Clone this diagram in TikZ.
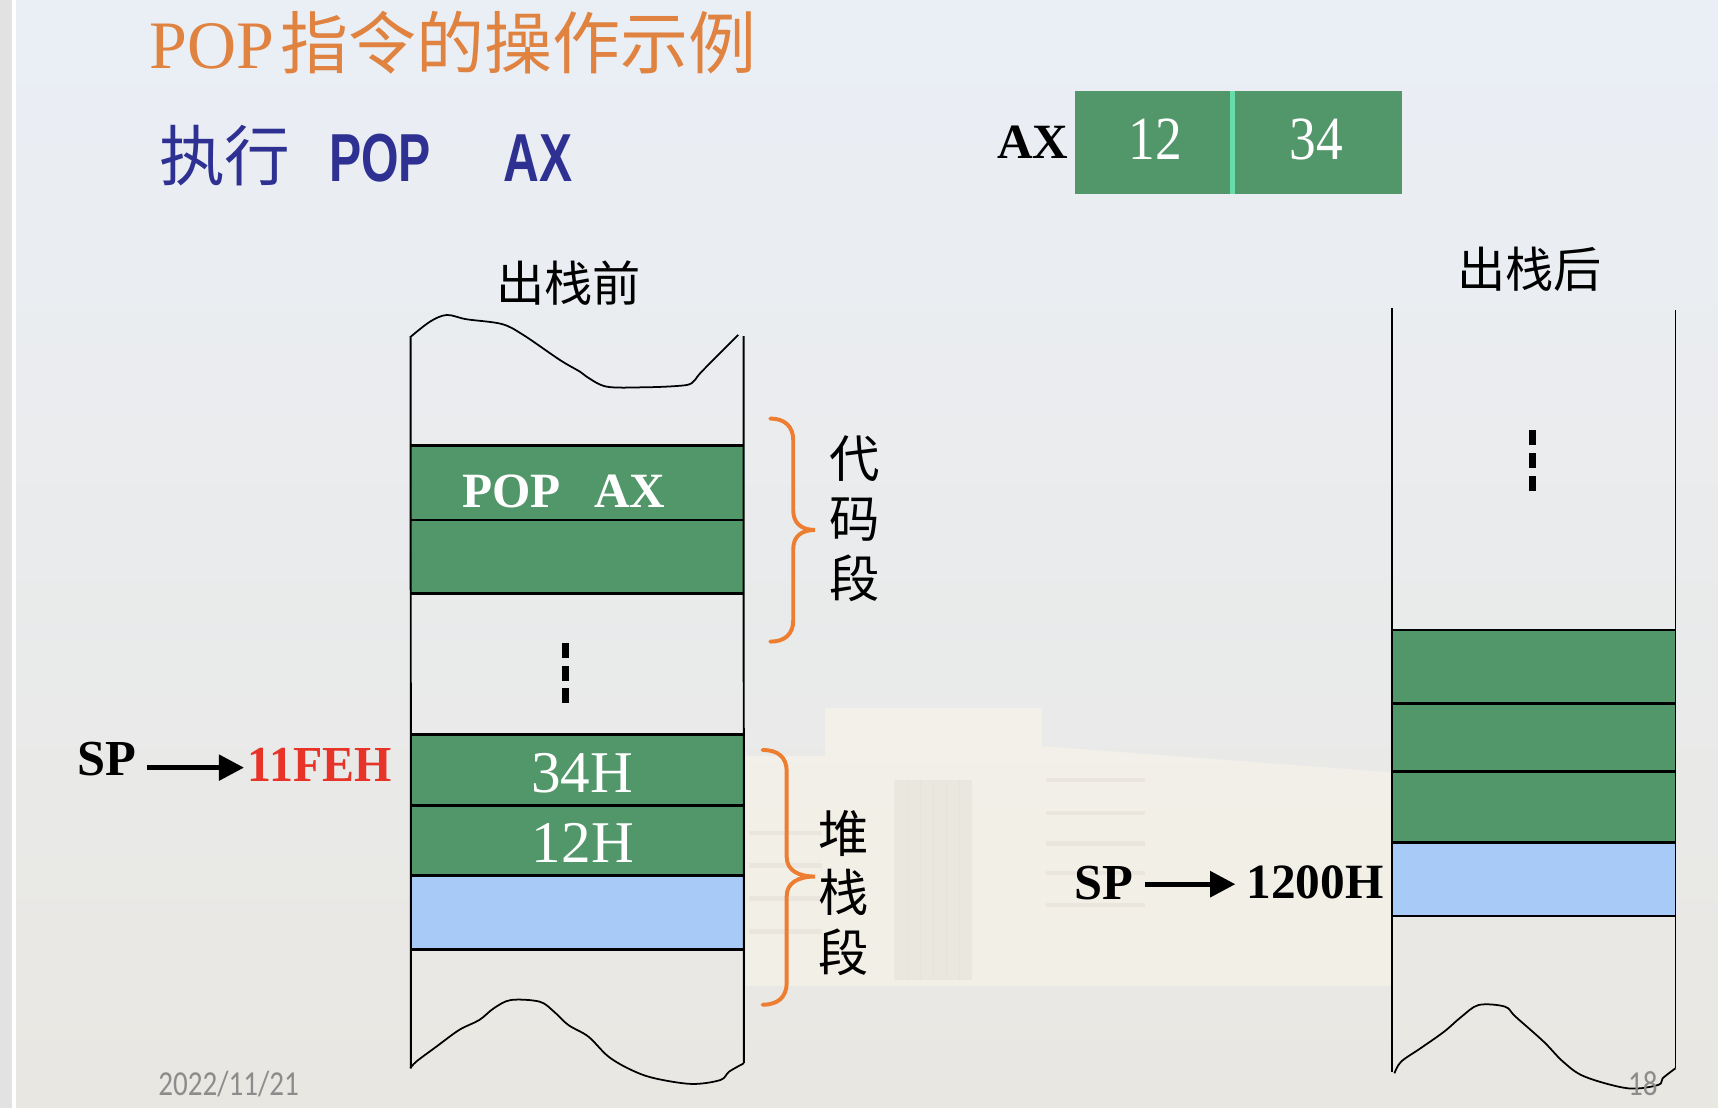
\documentclass[tikz,border=0pt]{standalone}
\usepackage{fontspec}
\usepackage{graphicx}
\usetikzlibrary{arrows.meta,calc}
\setmainfont{Liberation Serif}
\newfontfamily\cjk{Noto Sans CJK SC}
\newfontfamily\narrowsans{Liberation Sans}
\newfontfamily\footfont{Carlito}

\definecolor{cellgreen}{RGB}{82,151,106}
\definecolor{cellblue}{RGB}{167,202,247}
\definecolor{braceorange}{RGB}{237,125,49}
\definecolor{titleorange}{RGB}{224,130,64}
\definecolor{navy}{RGB}{46,49,146}
\definecolor{addrred}{RGB}{232,52,40}
\definecolor{divgreen}{RGB}{102,221,170}
\definecolor{footgray}{RGB}{140,140,140}
\definecolor{skytop}{RGB}{234,239,246}
\definecolor{hazemid}{RGB}{245,246,248}
\definecolor{groundlow}{RGB}{233,231,226}
\definecolor{edgegray}{RGB}{226,226,226}
\definecolor{bldcream}{RGB}{250,245,232}
\definecolor{bldshade}{RGB}{228,224,216}

\tikzset{
  txt/.style={inner sep=0pt, outer sep=0pt},
  colline/.style={line width=0.9pt, black},
  rowline/.style={line width=1.35pt, black},
  wave/.style={line width=0.8pt, black, smooth, tension=0.55},
  segbrace/.style={line width=1.8pt, braceorange, line cap=round},
  ptr/.style={line width=2.3pt, black, -{Triangle[length=11.5pt,width=11.5pt]}},
  cjklabel/.style={txt, font=\cjk\fontsize{22}{22}\selectfont},
  vlabel/.style={txt, align=center, font=\cjk\fontsize{23}{27.2}\selectfont},
  celltext/.style={txt, text=white, font=\fontsize{27}{27}\selectfont},
  boldlabel/.style={txt, font=\bfseries\fontsize{23}{23}\selectfont},
  footer/.style={txt, anchor=north west, text=footgray, font=\footfont\fontsize{16}{16}\selectfont},
}

\begin{document}
\begin{tikzpicture}[x=0.5pt,y=-0.5pt]
\useasboundingbox (0,0) rectangle (1568,1011);
\clip (0,0) rectangle (1568,1011);

% ---------- slide backdrop ----------
\shade[top color=skytop, middle color=hazemid, bottom color=groundlow] (0,0) rectangle (1568,1011);
% faint campus building
\begin{scope}[opacity=0.55]
\fill[bldcream] (753,646) rectangle (951,900);
\fill[bldcream] (951,681) -- (1270,705) -- (1270,900) -- (951,900) -- cycle;
\fill[bldcream] (681,690) rectangle (753,900);
\fill[bldshade, opacity=0.5] (816,712) rectangle (887,894);
\foreach \gx in {828,840,852,864,876}
  \draw[bldshade, line width=0.6pt] (\gx,712) -- (\gx,894);
\foreach \wy in {712,742,770,797,826}
  \draw[bldshade, line width=2pt] (955,\wy) -- (1045,\wy);
\foreach \wy in {760,790,820,850}
  \draw[bldshade, line width=2pt] (684,\wy) -- (750,\wy);
\end{scope}
% slide edge
\fill[edgegray] (0,0) rectangle (10.7,1011);
\fill[white] (10.7,0) rectangle (15,1011);

% ---------- headings ----------
\node[txt, anchor=base west, text=titleorange, font=\fontsize{31}{31}\selectfont]
  (title) at (136.2,62.4) {POP\hspace{3pt}{\cjk 指令的操作示例}};
\node[txt, anchor=west, text=navy, font=\cjk\fontsize{30}{30}\selectfont]
  (exec) at (145.2,142.2) {执行};
\node[txt, anchor=base west, text=navy, font=\narrowsans\bfseries\fontsize{31}{31}\selectfont]
  (opcode) at (300.3,165.8) {\scalebox{0.71}[1]{POP}};
\node[txt, anchor=base west, text=navy, font=\narrowsans\bfseries\fontsize{31}{31}\selectfont]
  (operand) at (459.6,165.8) {\scalebox{0.73}[1]{AX}};

% ---------- AX register ----------
\fill[cellgreen] (981,83) rectangle (1280,177);
\draw[divgreen, line width=2.2pt] (1124.8,83) -- (1124.8,177);
\node[txt, anchor=east, font=\bfseries\fontsize{22.5}{22.5}\selectfont] (axlabel) at (975,129.5) {AX};
\node[txt, text=white, font=\fontsize{28}{28}\selectfont] (axhigh) at (1054.5,127) {\scalebox{0.87}[1]{12}};
\node[txt, text=white, font=\fontsize{28}{28}\selectfont] (axlow) at (1201.7,127) {\scalebox{0.87}[1]{34}};

% ---------- stack before POP ----------
\node[cjklabel] (before) at (519,258) {出栈前};
\fill[cellgreen] (375,407) rectangle (679,542);
\fill[cellgreen] (375,670.8) rectangle (679,799.2);
\fill[cellblue] (375,799.2) rectangle (679,866.4);
\foreach \ry in {407,474.6,542,670.8,735.6,799.2,866.4}
  \draw[rowline] (375,\ry) -- (679,\ry);
\draw[colline] (374.8,308) -- (375,975);
\draw[colline] (678.6,306.7) -- (679,970.4);
\draw[wave] plot coordinates {(374.2,307.9) (392.4,293.6) (407.7,287.5) (425.9,291.4)
  (457.9,295.7) (477.6,305.7) (511.1,328.6) (529.3,339.2) (535.4,343.8) (553.7,352.9)
  (587.1,353.5) (617.6,352.3) (631.3,349.8) (640.4,339.2) (673.8,305.7)};
\draw[wave] plot coordinates {(374.6,975) (379.8,969) (398.2,955.3) (419.1,940)
  (437.5,930.9) (450.6,920.3) (466.3,912.7) (492.5,914.2) (505.6,923.3) (518.7,935.5)
  (537,946.1) (555.4,964.4) (576.3,976.6) (597.3,984.1) (631.3,989.3) (657.5,985.7)
  (665.4,978.1) (679,970.4)};
\fill (513.2,586.5) rectangle (519.6,600.8);
\fill (513.2,607.5) rectangle (519.6,621.2);
\fill (513.2,627.6) rectangle (519.6,641.9);
\node[txt, text=white, font=\bfseries\fontsize{22.5}{22.5}\selectfont]
  (instr) at (514.6,448.8) {POP\hspace{15.2pt}AX};
\node[celltext] (hibyte) at (531.5,706) {34H};
\node[celltext] (lobyte) at (532,769) {12H};

% segment braces
\draw[segbrace] (703,382) .. controls (716,382) and (724,389) .. (724,402)
  -- (724,466) .. controls (724,477) and (731,483.7) .. (743.8,483.7)
  .. controls (731,483.7) and (724,490) .. (724,501)
  -- (724,566) .. controls (724,579) and (716,585.6) .. (703,585.6);
\node[vlabel] (codeseg) at (780,473.5) {代\\码\\段};
\draw[segbrace] (696,684.5) .. controls (710,684.5) and (718,691) .. (718,704)
  -- (718,782) .. controls (718,794) and (728,800) .. (744,800)
  .. controls (728,800) and (718,806) .. (718,818)
  -- (718,897) .. controls (718,910) and (710,917) .. (696,917);
\node[vlabel, font=\cjk\fontsize{23}{27}\selectfont] (stackseg) at (770,815) {堆\\栈\\段};

% stack pointer before
\node[boldlabel, anchor=base west] (spold) at (70.7,708) {SP};
\node[boldlabel, anchor=base west, text=addrred] (addrold) at (226.3,713.4) {\scalebox{0.95}[1]{11FEH}};
\draw[ptr] ($(spold.base east)+(9.5,-7.4)$) -- ($(addrold.base west)+(-3.6,-12.8)$);

% ---------- stack after POP ----------
\node[cjklabel] (after) at (1396,245.5) {出栈后};
\fill[cellgreen] (1270.8,575) rectangle (1529.2,769);
\fill[cellblue] (1270.8,769) rectangle (1529.2,836);
\foreach \ry in {575,642,704,769,836}
  \draw[rowline] (1270.8,\ry) -- (1529.2,\ry);
\draw[colline] (1270.8,281.4) -- (1270.8,978);
\draw[colline] (1529.2,283) -- (1529.2,975);
\draw[wave] plot coordinates {(1272.7,979.6) (1278.7,969) (1296.4,956.8) (1318,941.6)
  (1333.9,927.9) (1349.7,917.2) (1373.4,918.7) (1383.2,927.9) (1408.9,950.7)
  (1426.6,969) (1446.3,982.6) (1485.8,993.3) (1513.4,990.2) (1517.4,984.2) (1529.2,975)};
\fill (1395.8,392.5) rectangle (1402.2,406);
\fill (1395.8,413.7) rectangle (1402.2,427.4);
\fill (1395.8,434.4) rectangle (1402.2,448.1);

% stack pointer after
\node[boldlabel, anchor=base west] (spnew) at (980.8,821) {SP};
\node[txt, anchor=base west, font=\bfseries\fontsize{22.5}{22.5}\selectfont] (addrnew) at (1137.8,819.7) {1200H};
\draw[ptr] ($(spnew.base east)+(10.5,-14)$) -- ($(addrnew.base west)+(-10.3,-12.7)$);

% ---------- footer ----------
\node[footer] (date) at (144.5,978) {\scalebox{0.83}[1]{2022/11/21}};
\node[footer] (pageno) at (1486,978) {\scalebox{0.83}[1]{18}};
\end{tikzpicture}
\end{document}
